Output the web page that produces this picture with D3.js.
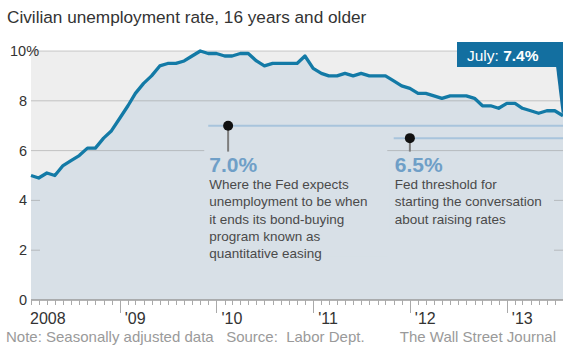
<!DOCTYPE html>
<html><head><meta charset="utf-8">
<script src="https://cdn.jsdelivr.net/npm/d3@7"></script>
<style>
html,body{margin:0;padding:0;background:#fff;}
svg{display:block;font-family:"Liberation Sans",Arial,Helvetica,sans-serif;}
</style></head>
<body><svg id="c" width="563" height="346"></svg>
<script>
// ---- data ----
const startYear = 2008;
const rates = [
  5.0, 4.9, 5.1, 5.0, 5.4, 5.6, 5.8, 6.1, 6.1, 6.5, 6.8, 7.3,   // 2008
  7.8, 8.3, 8.7, 9.0, 9.4, 9.5, 9.5, 9.6, 9.8, 10.0, 9.9, 9.9,  // 2009
  9.8, 9.8, 9.9, 9.9, 9.6, 9.4, 9.5, 9.5, 9.5, 9.5, 9.8, 9.3,   // 2010
  9.1, 9.0, 9.0, 9.1, 9.0, 9.1, 9.0, 9.0, 9.0, 8.8, 8.6, 8.5,   // 2011
  8.3, 8.3, 8.2, 8.1, 8.2, 8.2, 8.2, 8.1, 7.8, 7.8, 7.7, 7.9,   // 2012
  7.9, 7.7, 7.6, 7.5, 7.6, 7.6, 7.4                             // 2013
];
const yTicks = [0, 2, 4, 6, 8, 10];
const yGridFull = [6, 8, 10];
const yearLabels = ["2008", "'09", "'10", "'11", "'12", "'13"];
const latestLabel = "July: ";
const latestValue = "7.4%";
const annotations = [
  {value: 7.0, label: "7.0%", lineStart: new Date(2009, 11, 1), dot: new Date(2010, 1, 14),
   lines: ["Where the Fed expects", "unemployment to be when", "it ends its bond-buying", "program known as", "quantitative easing"]},
  {value: 6.5, label: "6.5%", lineStart: new Date(2011, 10, 1), dot: new Date(2012, 0, 1),
   lines: ["Fed threshold for", "starting the conversation", "about raising rates"]}
];
const titleText = "Civilian unemployment rate, 16 years and older";
const noteText = "Note: Seasonally adjusted data   Source:  Labor Dept.";
const creditText = "The Wall Street Journal";

// ---- build ----
const data = rates.map((v, i) => ({date: new Date(startYear, i + 1, 1), value: v}));
const svg = d3.select("#c");
const L = 31, R = 563, T = 51, B = 300;
const x = d3.scaleTime().domain([new Date(2008, 1, 1), new Date(2013, 7, 1)]).range([L, R]);
const y = d3.scaleLinear().domain([0, 10]).range([B, T]);

svg.append("text").attr("x", 7).attr("y", 23).attr("font-size", 17.2).attr("fill", "#333").text(titleText);

svg.append("rect").attr("x", L).attr("y", T).attr("width", R - L).attr("height", B - T).attr("fill", "#eeeeee");

const area = d3.area().x(d => x(d.date)).y0(y(0)).y1(d => y(d.value));
svg.append("path").datum(data).attr("d", area).attr("fill", "#d8e0e7");

// gridlines
svg.selectAll(".grid").data(yGridFull).enter().append("line")
  .attr("x1", L).attr("x2", R).attr("y1", d => y(d)).attr("y2", d => y(d))
  .attr("stroke", "rgba(140,140,140,0.45)").attr("stroke-width", 1);
const shortT = yTicks.filter(d => d > 0 && !yGridFull.includes(d));
shortT.forEach(d => {
  svg.append("line").attr("x1", L).attr("x2", L + 9).attr("y1", y(d)).attr("y2", y(d)).attr("stroke", "rgba(140,140,140,0.45)");
  svg.append("line").attr("x1", R - 9).attr("x2", R).attr("y1", y(d)).attr("y2", y(d)).attr("stroke", "rgba(140,140,140,0.45)");
});

// annotation backgrounds cover gridline at 6
annotations.forEach((a, i) => {
  const x0 = x(a.lineStart) - 4;
  svg.append("rect").attr("x", x0).attr("y", y(a.value) + 14).attr("width", i === 0 ? 183 : 162)
    .attr("height", a.lines.length * 17.3 + 30).attr("fill", "#d8e0e7");
});

// y labels
svg.selectAll(".yl").data(yTicks).enter().append("text")
  .attr("x", 27).attr("y", d => y(d) + 5).attr("text-anchor", "end")
  .attr("font-size", 14.5).attr("fill", "#333")
  .text(d => d).each(function(d){
    if (d === 10) d3.select(this).append("tspan").text("%");
  });
svg.selectAll("text").filter(function(){ return d3.select(this).text() === "10%"; })
  .attr("text-anchor", "start").attr("x", 10);

// annotation lines
annotations.forEach(a => {
  const yy = y(a.value);
  svg.append("line").attr("x1", x(a.lineStart)).attr("x2", R).attr("y1", yy).attr("y2", yy)
    .attr("stroke", "#a8c4dc").attr("stroke-width", 2);
  svg.append("line").attr("x1", x(a.dot)).attr("x2", x(a.dot)).attr("y1", yy).attr("y2", y(6) + 1)
    .attr("stroke", "#7d7d7d").attr("stroke-width", 2);
  svg.append("circle").attr("cx", x(a.dot)).attr("cy", yy).attr("r", 5).attr("fill", "#111");
  const tx = x(a.lineStart) + 1;
  svg.append("text").attr("x", tx).attr("y", 172).attr("font-size", 21).attr("font-weight", "bold")
    .attr("fill", "#6f9fc7").text(a.label);
  a.lines.forEach((ln, j) => {
    svg.append("text").attr("x", tx).attr("y", 189 + j * 17.3).attr("font-size", 13.5)
      .attr("fill", "#4a4a4a").text(ln);
  });
});

// data line
const line = d3.line().x(d => x(d.date)).y(d => y(d.value));
svg.append("path").datum(data).attr("d", line).attr("fill", "none")
  .attr("stroke", "#137aa6").attr("stroke-width", 3.3).attr("stroke-linejoin", "round");

// x axis
svg.append("line").attr("x1", L).attr("x2", R).attr("y1", B).attr("y2", B).attr("stroke", "#9a9a9a").attr("stroke-width", 1.5);
const months = d3.timeMonth.range(x.domain()[0], new Date(2013, 7, 2));
svg.selectAll(".mt").data(months).enter().append("line")
  .attr("x1", d => Math.round(x(d)) + 0.5).attr("x2", d => Math.round(x(d)) + 0.5)
  .attr("y1", B).attr("y2", d => d.getMonth() === 0 ? B + 13 : B + 5)
  .attr("stroke", "#aaa").attr("stroke-width", 1);
const years = d3.range(2008, 2014);
svg.selectAll(".xl").data(years).enter().append("text")
  .attr("x", d => d === 2008 ? 30 : x(new Date(d, 0, 1)) + 5)
  .attr("y", 324).attr("font-size", 16).attr("fill", "#333")
  .text((d, i) => yearLabels[i]);

// callout
const last = data[data.length - 1];
const cx = x(last.date), cy = y(last.value);
const g = svg.append("g");
g.append("path").attr("d", `M${R - 7},66 L${cx - 1},${cy} L${R},${cy - 4} L${R},66 Z`).attr("fill", "#136fa0");
g.append("rect").attr("x", 457).attr("y", 42).attr("width", R - 457).attr("height", 25).attr("fill", "#136fa0");
const ct = g.append("text").attr("x", 467).attr("y", 61).attr("font-size", 15.5).attr("fill", "#fff");
ct.append("tspan").text(latestLabel);
ct.append("tspan").attr("font-weight", "bold").text(latestValue);

// footer
svg.append("text").attr("x", 6).attr("y", 342).attr("font-size", 15).attr("fill", "#9a9a9a")
  .attr("xml:space", "preserve").style("white-space", "pre").text(noteText);
svg.append("text").attr("x", 556).attr("y", 342).attr("text-anchor", "end").attr("font-size", 15)
  .attr("fill", "#9a9a9a").text(creditText);
</script></body></html>
